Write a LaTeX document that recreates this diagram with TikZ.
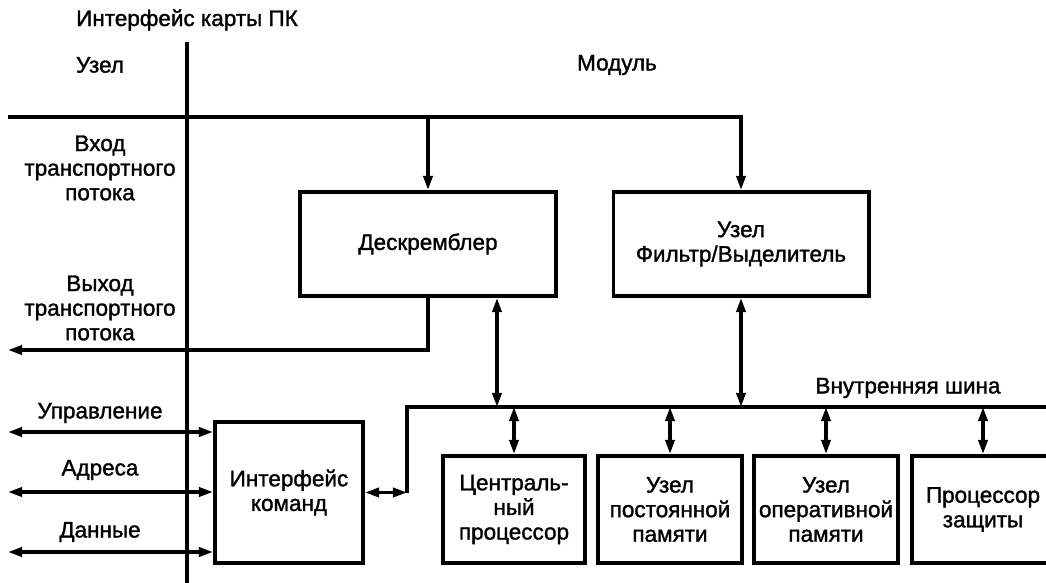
\documentclass[tikz,border=0pt]{standalone}
\usepackage{fontspec}
\setmainfont{Liberation Sans}[FakeBold=1.4]
\usetikzlibrary{arrows.meta}

\tikzset{
  wire/.style={line width=2.3pt},
  block/.style={draw, line width=2.8pt, align=center, inner sep=0pt},
  lbl/.style={align=center}
}

\begin{document}
\begin{tikzpicture}[x=0.025cm, y=-0.025cm,
  font=\fontsize{16}{17.5}\selectfont,
  >={Triangle[length=10pt,width=6.5pt]}]
\useasboundingbox (0,0) rectangle (1046,583);

% Define nodes
\path
(187,20) node (title) {Интерфейс карты ПК}
(100,65) node (host) {Узел}
(617,65) node (module) {Модуль}
(100,168) node[lbl] (tsin) {Вход\\транспортного\\потока}
(100,308) node[lbl] (tsout) {Выход\\транспортного\\потока}
(100,413) node (ctltxt) {Управление}
(100,470) node (adrtxt) {Адреса}
(100,532) node (dattxt) {Данные}
(908,388) node (bustxt) {Внутренняя шина}
;

\path
(428,244) node[block, minimum width=6.4cm, minimum height=2.6cm] (descr) {Дескремблер}
(741,244) node[block, minimum width=6.375cm, minimum height=2.6cm] (filtr) {Узел\\Фильтр/Выделитель}
(289,492.5) node[block, minimum width=3.7cm, minimum height=3.525cm] (intcmd) {Интерфейс\\команд}
;

\begin{scope}[every node/.style={block, minimum width=3.55cm, minimum height=2.675cm}]
\path
(514,509.5) node (cpu) {Централь-\\ный\\процессор}
(670,509.5) node[minimum width=3.6cm] (rom) {Узел\\постоянной\\памяти}
(826,509.5) node[minimum width=3.6cm] (ram) {Узел\\оперативной\\памяти}
(983,509.5) node (sec) {Процессор\\защиты}
;
\end{scope}

\begin{scope}[wire]
% Interface line
\coordinate (ifT) at (187,42);
\coordinate (ifB) at (187,583);
\draw (ifT) -- (ifB);

% Transport stream
\coordinate (tsinL) at (8,117);
\coordinate (tsoutL) at (8,350);
\draw[->] (tsinL) -| (filtr.north);
\draw[->] (descr.north |- tsinL) -- (descr.north);
\draw[->] (descr.south) |- (tsoutL);

% Internal bus
\coordinate (busL) at (407,407);
\coordinate (busR) at (1046,407);
\coordinate (busD) at (497,407);
\draw (intcmd.east -| busL) |- (busR);
\draw[<->] (intcmd.east) -- (intcmd.east -| busL);
\draw[<->] (busD) -- (busD |- descr.south);
\draw[<->] (filtr.south) -- (filtr.south |- busR);
\foreach \n in {cpu,rom,ram,sec}
  \draw[<->] (\n.north) -- (\n.north |- busR);

% Control, address, data
\foreach \y/\n in {432/ctl, 492/adr, 552/dat} {
  \coordinate (\n) at (8,\y);
  \draw[<->] (\n) -- (\n -| intcmd.west);
}
\end{scope}

\end{tikzpicture}
\end{document}
